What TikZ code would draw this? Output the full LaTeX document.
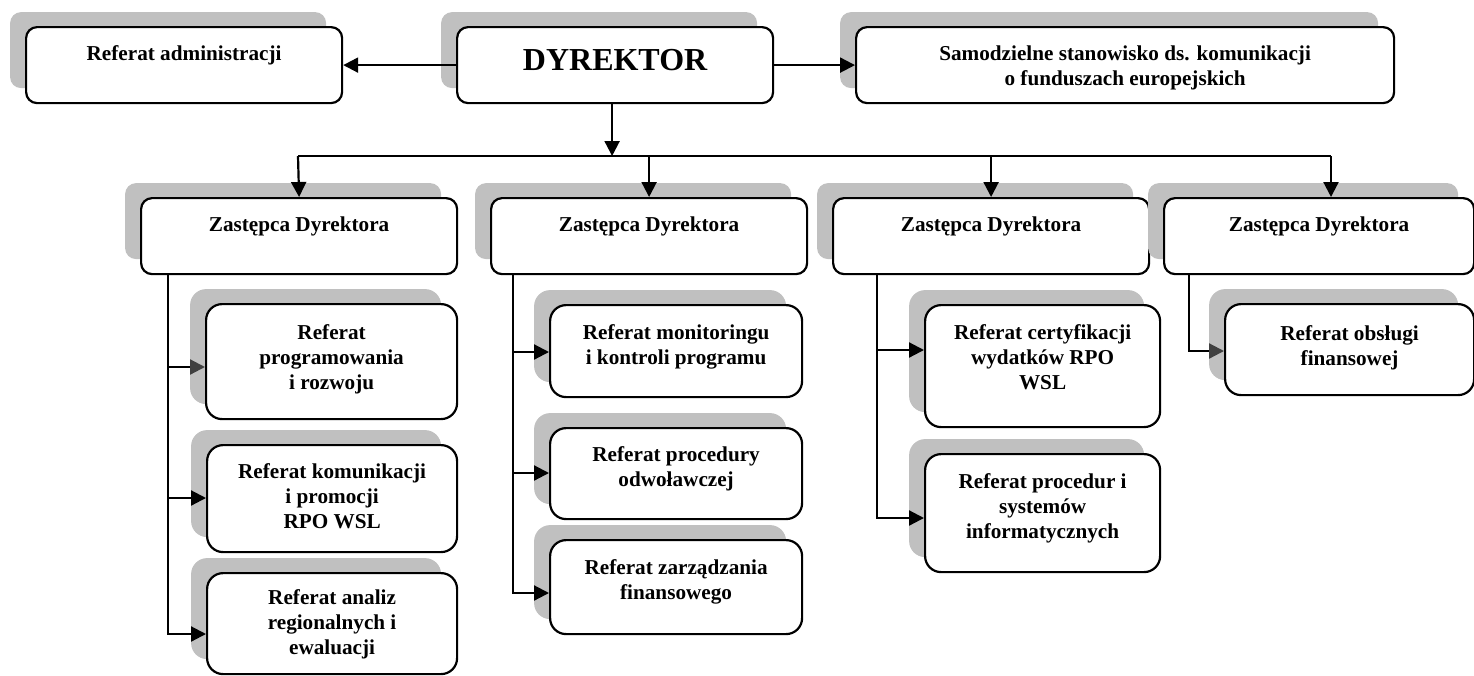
\documentclass[tikz,border=0pt]{standalone}
\usepackage{fontspec}
\setmainfont{Liberation Serif}
\usetikzlibrary{arrows.meta,calc,shadows}
\definecolor{shadowgray}{RGB}{192,192,192}
\definecolor{tipgray}{RGB}{64,64,64}
\begin{document}
\begin{tikzpicture}[x=1pt,y=-1pt,
  every node/.style={font=\fontsize{21.2}{25}\selectfont\bfseries, inner sep=0pt, align=center},
  unitbox/.style={draw=black, line width=2.2pt, fill=white, anchor=north west,
    general shadow={fill=shadowgray, shadow xshift=-16pt, shadow yshift=15pt}},
  headbox/.style={unitbox, rounded corners=11pt},
  subbox/.style={unitbox, rounded corners=16pt},
  boxtext/.style={anchor=base},
  conn/.style={line width=2.2pt, draw=black, line join=miter},
  arr/.style={conn, -{Triangle[length=15pt,width=15pt]}},
  grayarr/.style={conn, -{Triangle[length=15pt,width=15pt,color=tipgray]}}]
\useasboundingbox (0,0) rectangle (1474,675);

% top row
\node[headbox, minimum width=316pt, minimum height=76pt] (adm) at (25,26) {};
\node[boxtext] (admT) at ($(adm.north)+(0,34)$) {Referat administracji};
\node[headbox, minimum width=316pt, minimum height=76pt] (dyr) at (456,26) {};
\node[boxtext, font=\fontsize{32}{38}\selectfont\bfseries] (dyrT) at ($(dyr.north)+(0,44)$) {DYREKTOR};
\node[headbox, minimum width=538pt, minimum height=76pt] (sam) at (855,26) {};
\node[boxtext] (samT) at ($(sam.north)+(0,59)$) {Samodzielne stanowisko ds. komunikacji\\o funduszach europejskich};

% deputies
\foreach \n/\x/\w in {d1/140/316, d2/490/316, d3/832/316, d4/1163/310}{
  \node[headbox, minimum width=\w pt, minimum height=76pt] (\n) at (\x,197) {};
  \node[boxtext] (\n T) at ($(\n.north)+(0,34)$) {Zastępca Dyrektora};
}

% units (the text anchor is the baseline of the last line)
\node[subbox, minimum width=251pt, minimum height=115pt] (p1) at (205,303) {};
\node[boxtext] (p1T) at ($(p1.north)+(0,86)$) {Referat\\programowania\\i rozwoju};
\node[subbox, minimum width=250pt, minimum height=107pt] (p2) at (206,444) {};
\node[boxtext] (p2T) at ($(p2.north)+(0,84)$) {Referat komunikacji\\i promocji\\RPO WSL};
\node[subbox, minimum width=250pt, minimum height=101pt] (p3) at (206,572) {};
\node[boxtext] (p3T) at ($(p3.north)+(0,82)$) {Referat analiz\\regionalnych i\\ewaluacji};
\node[subbox, minimum width=252pt, minimum height=92pt] (m1) at (549,304) {};
\node[boxtext] (m1T) at ($(m1.north)+(0,60)$) {Referat monitoringu\\i kontroli programu};
\node[subbox, minimum width=252pt, minimum height=91pt] (m2) at (549,427) {};
\node[boxtext] (m2T) at ($(m2.north)+(0,59)$) {Referat procedury\\odwoławczej};
\node[subbox, minimum width=252pt, minimum height=94pt] (m3) at (549,539) {};
\node[boxtext] (m3T) at ($(m3.north)+(0,60)$) {Referat zarządzania\\finansowego};
\node[subbox, minimum width=235pt, minimum height=122pt] (c1) at (924,304) {};
\node[boxtext] (c1T) at ($(c1.north)+(0,85)$) {Referat certyfikacji\\wydatków RPO\\WSL};
\node[subbox, minimum width=235pt, minimum height=118pt] (c2) at (924,453) {};
\node[boxtext] (c2T) at ($(c2.north)+(0,85)$) {Referat procedur i\\systemów\\informatycznych};
\node[subbox, minimum width=249pt, minimum height=91pt] (f1) at (1224,303) {};
\node[boxtext] (f1T) at ($(f1.north)+(0,62)$) {Referat obsługi\\finansowej};

% director links
\draw[arr] (dyr.west) -- (adm.east);
\draw[arr] (dyr.east) -- (sam.west);
\coordinate (busL) at (298,156);
\coordinate (busR) at (1331,156);
\coordinate (dyrOut) at ($(dyr.south)+(-3,0)$);
\draw[conn] (busL) -- (busR);
\draw[arr] (dyrOut) -- (dyrOut |- busL);
\draw[arr] (busL) -- (d1.north);
\draw[arr] (d2.north |- busL) -- (d2.north);
\draw[arr] (d3.north |- busL) -- (d3.north);
\draw[arr] (busR) -- (busR |- d4.north);

% junctions on the deputy trunks
\coordinate (j11) at (168,367);
\coordinate (j12) at (168,498);
\coordinate (j13) at (168,634);
\coordinate (j21) at (513,352);
\coordinate (j22) at (513,473);
\coordinate (j23) at (513,593);
\coordinate (j31) at (877,350);
\coordinate (j32) at (877,518);
\coordinate (j41) at (1189,351);

% trunk to units, first column
\draw[arr] (d1.south -| j13) -- (j13) -- (j13 -| p3.west);
\draw[grayarr] (j11) -- (j11 -| p1.west);
\draw[arr] (j12) -- (j12 -| p2.west);
% second column
\draw[arr] (d2.south -| j23) -- (j23) -- (j23 -| m3.west);
\draw[arr] (j21) -- (j21 -| m1.west);
\draw[arr] (j22) -- (j22 -| m2.west);
% third column
\draw[arr] (d3.south -| j32) -- (j32) -- (j32 -| c2.west);
\draw[arr] (j31) -- (j31 -| c1.west);
% fourth column
\draw[grayarr] (d4.south -| j41) -- (j41) -- (j41 -| f1.west);
\end{tikzpicture}
\end{document}
